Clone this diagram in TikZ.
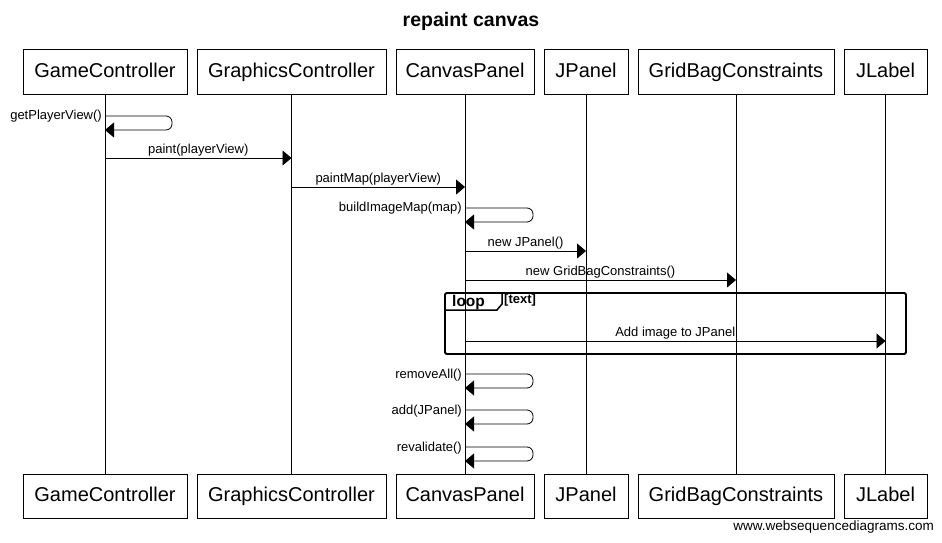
\documentclass[tikz,border=0pt]{standalone}
\usepackage{fontspec}
\setmainfont{Liberation Sans}
\usetikzlibrary{arrows.meta}
\begin{document}
\begin{tikzpicture}[x=1pt,y=-1pt,
  actor/.style={draw, line width=1pt, minimum height=44pt, inner sep=0pt, text height=14.5pt, text depth=4pt, font=\fontsize{20}{22}\selectfont},
  life/.style={line width=0.8pt},
  msg/.style={line width=0.8pt, -{Triangle[length=9pt,width=15pt]}},
  selfmsg/.style={msg, rounded corners=6pt},
  mlab/.style={font=\fontsize{13}{15}\selectfont, inner sep=1pt},
  slab/.style={font=\fontsize{13}{15}\selectfont, inner sep=1pt, anchor=east},
  frame/.style={draw, line width=1.8pt, rounded corners=1.5pt},
]
\useasboundingbox (0,0) rectangle (942,543);
\node[font=\bfseries\fontsize{19.5}{22}\selectfont] (title) at (471,21) {repaint canvas};
% top actors
\node[actor, minimum width=164pt] (gcT) at (105,72) {GameController};
\node[actor, minimum width=189pt] (grT) at (291.5,72) {GraphicsController};
\node[actor, minimum width=138pt] (cpT) at (465,72) {CanvasPanel};
\node[actor, minimum width=84pt] (jpT) at (586,72) {JPanel};
\node[actor, minimum width=196pt] (gbT) at (736,72) {GridBagConstraints};
\node[actor, minimum width=83pt] (jlT) at (885.5,72) {JLabel};
% bottom actors
\node[actor, minimum width=164pt] (gcB) at (105,496) {GameController};
\node[actor, minimum width=189pt] (grB) at (291.5,496) {GraphicsController};
\node[actor, minimum width=138pt] (cpB) at (465,496) {CanvasPanel};
\node[actor, minimum width=84pt] (jpB) at (586,496) {JPanel};
\node[actor, minimum width=196pt] (gbB) at (736,496) {GridBagConstraints};
\node[actor, minimum width=83pt] (jlB) at (885.5,496) {JLabel};
% lifelines
\foreach \a in {gc,gr,cp,jp,gb,jl} \draw[life] (\a T) -- (\a B);
% loop frame
\draw[frame] (445,293) rectangle (906,354);
\draw[line width=1.5pt] (445,310) -- (497,310) -- (502,304) -- (502,293);
\node[font=\bfseries\fontsize{15.5}{17}\selectfont, anchor=west, inner sep=0pt] (looplab) at (452,302) {loop};
\node[font=\bfseries\fontsize{13}{15}\selectfont, anchor=west, inner sep=0pt] (guard) at (504,300) {[text]};
% messages
\draw[selfmsg] (gcT |- 0,116) -- ++(67,0) -- ++(0,14) -- (gcT |- 0,130);
\node[slab] (l1) at (103,116) {getPlayerView()};
\draw[msg] (gcT |- 0,158) -- node[mlab, above] (l2) {paint(playerView)} (grT |- 0,158);
\draw[msg] (grT |- 0,187) -- node[mlab, above] (l3) {paintMap(playerView)} (cpT |- 0,187);
\draw[selfmsg] (cpT |- 0,208) -- ++(68,0) -- ++(0,14) -- (cpT |- 0,222);
\node[slab] (l4) at (463,208) {buildImageMap(map)};
\draw[msg] (cpT |- 0,251) -- node[mlab, above] (l5) {new JPanel()} (jpT |- 0,251);
\draw[msg] (cpT |- 0,280) -- node[mlab, above] (l6) {new GridBagConstraints()} (gbT |- 0,280);
\draw[msg] (cpT |- 0,341) -- node[mlab, above] (l7) {Add image to JPanel} (jlT |- 0,341);
\draw[selfmsg] (cpT |- 0,374) -- ++(68,0) -- ++(0,14) -- (cpT |- 0,388);
\node[slab] (l8) at (463,375) {removeAll()};
\draw[selfmsg] (cpT |- 0,410) -- ++(68,0) -- ++(0,14) -- (cpT |- 0,424);
\node[slab] (l9) at (463,411) {add(JPanel)};
\draw[selfmsg] (cpT |- 0,447) -- ++(68,0) -- ++(0,14) -- (cpT |- 0,461);
\node[slab] (l10) at (463,448) {revalidate()};
\node[font=\fontsize{13.5}{15}\selectfont, anchor=east, inner sep=0pt] (wm) at (934,527) {www.websequencediagrams.com};
\end{tikzpicture}
\end{document}
